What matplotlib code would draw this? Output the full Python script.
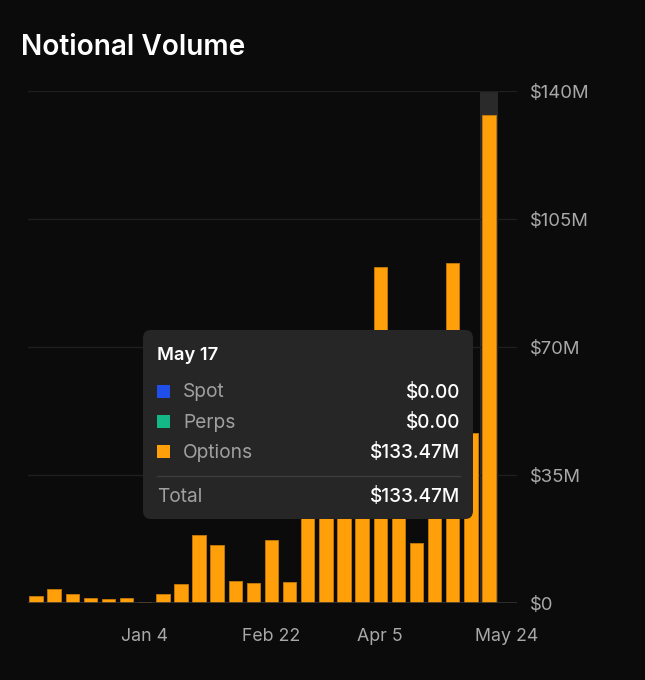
import matplotlib
matplotlib.use("Agg")
import matplotlib.pyplot as plt
from matplotlib.patches import FancyBboxPatch, Rectangle

plt.rcParams['font.family'] = ['Inter', 'DejaVu Sans']

# weekly notional volume (millions USD), Nov 23 .. May 17
semanas = ["Nov 23", "Nov 30", "Dec 7", "Dec 14", "Dec 21", "Dec 28", "Jan 4",
           "Jan 11", "Jan 18", "Jan 25", "Feb 1", "Feb 8", "Feb 15", "Feb 22",
           "Mar 1", "Mar 8", "Mar 15", "Mar 22", "Mar 29", "Apr 5", "Apr 12",
           "Apr 19", "Apr 26", "May 3", "May 10", "May 17"]
options = [1.9, 3.7, 2.4, 1.3, 1.2, 1.4, 0.4, 2.4, 5.2, 18.7, 15.8, 5.9, 5.5,
           17.1, 5.7, 30.0, 28.0, 35.0, 40.0, 92.0, 38.0, 16.4, 42.0, 93.0,
           46.5, 133.47]
spot = [0.0] * len(options)
perps = [0.0] * len(options)

ticks_pos = [6, 13, 19, 26]
ticks_lab = ["Jan 4", "Feb 22", "Apr 5", "May 24"]
y_ticks = [0, 35, 70, 105, 140]
y_labs = ["$0", "$35M", "$70M", "$105M", "$140M"]

bg = "#0b0b0b"
laranja = "#ff9f0a"
W, H = 645, 680

fig = plt.figure(figsize=(W / 100, H / 100), dpi=100, facecolor=bg)
ax = fig.add_axes([28 / W, (H - 603) / H, (517 - 28) / W, (603 - 91) / H])
ax.set_facecolor(bg)

x = list(range(len(options)))
sel = len(options) - 1

# destaque da semana selecionada
ax.bar(sel, 140, width=0.97, color="#2a2a2a", zorder=1)
ax.bar(x, options, width=0.74, color=laranja, edgecolor="#c67a08",
       linewidth=0.6, zorder=2)

ax.set_xlim(-0.44, 26.55)
ax.set_ylim(0, 140)
ax.set_yticks(y_ticks)
ax.yaxis.tick_right()
ax.set_yticklabels(y_labs, color="#a8a8a8", fontsize=13.3)
ax.set_xticks(ticks_pos)
ax.set_xticklabels(ticks_lab, color="#a8a8a8", fontsize=12.8)
ax.tick_params(length=0)
ax.tick_params(axis="x", pad=18)
ax.tick_params(axis="y", pad=9)
for lab in ax.get_yticklabels():
    lab.set_horizontalalignment("left")
for s in ax.spines.values():
    s.set_visible(False)
ax.grid(axis="y", color="#1f1f1f", linewidth=1, zorder=0)
ax.axhline(0, color="#333333", linewidth=1.2, zorder=3)

fig.text(21 / W, 1 - 47.5 / H, "Notional Volume", color="white",
         fontsize=20.2, fontweight="semibold", va="center", ha="left")

# tooltip
def fx(px):
    return px / W

def fy(py):
    return 1 - py / H

caixa = FancyBboxPatch((fx(143), fy(519)), fx(473) - fx(143), fy(330) - fy(519),
                       boxstyle="round,pad=0,rounding_size=0.012",
                       transform=fig.transFigure, facecolor="#262626",
                       edgecolor="none", zorder=10)
fig.patches.append(caixa)

fig.text(fx(157), fy(356), semanas[sel], color="white", fontsize=13.2,
         fontweight="semibold", va="center", zorder=11)

linhas = [("Spot", "#1f4fe8", spot[sel]), ("Perps", "#14b886", perps[sel]),
          ("Options", laranja, options[sel])]

def fmt(v):
    if v == 0:
        return "$0.00"
    return "$%.2fM" % v

for i, (nome, cor, val) in enumerate(linhas):
    yy = 391 + 30 * i
    fig.patches.append(Rectangle((fx(157), fy(yy + 6.5)), fx(13), 13 / H,
                                 transform=fig.transFigure, facecolor=cor,
                                 edgecolor="none", zorder=11))
    fig.text(fx(183), fy(yy + 1.5), nome, color="#a0a0a0", fontsize=13.8,
             va="center", zorder=11)
    fig.text(fx(460), fy(yy + 1.5), fmt(val), color="white", fontsize=13.7,
             va="center", ha="right", fontweight="medium", zorder=11)

fig.add_artist(plt.Line2D([fx(157), fx(460)], [fy(476), fy(476)],
                          color="#3c3c3c", linewidth=1, zorder=11))
total = spot[sel] + perps[sel] + options[sel]
fig.text(fx(157), fy(496.5), "Total", color="#a0a0a0", fontsize=13.8,
         va="center", zorder=11)
fig.text(fx(460), fy(496.5), fmt(total), color="white", fontsize=13.7,
         va="center", ha="right", fontweight="medium", zorder=11)

plt.savefig("out.png", dpi=100, facecolor=bg)
